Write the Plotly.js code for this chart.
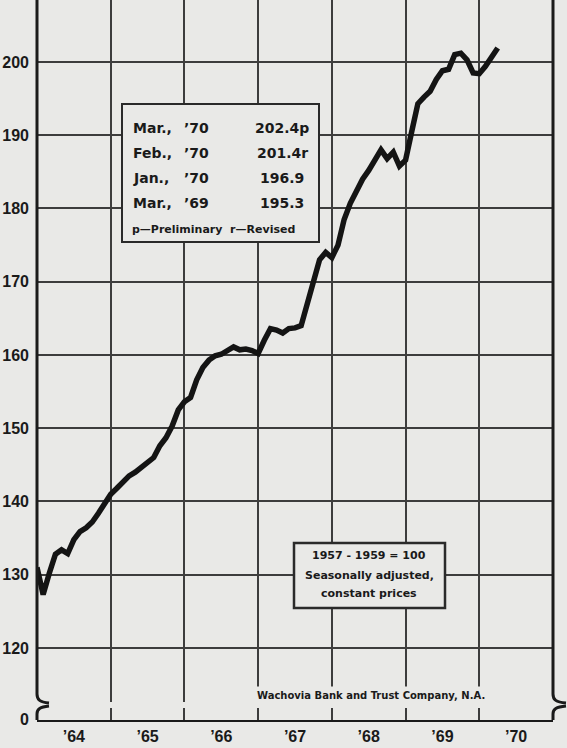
<!DOCTYPE html>
<html><head><meta charset="utf-8">
<script src="https://cdn.plot.ly/plotly-3.0.1.min.js"></script>
<style>html,body{margin:0;padding:0;background:#e9e9e7;} #chart{width:567px;height:748px;}</style>
</head><body><div id="chart"></div>
<script>
// ---- data (index, 1957-59 = 100, monthly, plotted at month end) ----
const v1963 = [131.0];                     // Dec
const v1964 = [127.3,130.2,132.8,133.4,132.9,134.8,135.9,136.4,137.2,138.4,139.8,141.0];
const v1965 = [141.8,142.6,143.5,144.0,144.6,145.4,146.0,147.6,148.7,150.3,152.5,153.6];
const v1966 = [154.2,156.6,158.3,159.3,159.9,160.1,160.5,161.1,160.7,160.8,160.6,160.2];
const v1967 = [162.0,163.6,163.4,163.0,163.6,163.7,164.0,167.0,170.0,173.0,174.0,173.3];
const v1968 = [175.0,178.5,180.7,182.5,184.0,185.2,186.7,188.0,186.8,187.7,185.8,186.6];
const v1969 = [190.5,194.3,195.2,196.0,197.6,198.8,199.0,201.0,201.2,200.3,198.5,198.4];
const v1970 = [199.4,200.8,201.9];         // Jan-Mar
const yearBlocks = [[1963,11,v1963],[1964,0,v1964],[1965,0,v1965],[1966,0,v1966],
                    [1967,0,v1967],[1968,0,v1968],[1969,0,v1969],[1970,0,v1970]];

const xTickYears = [1964,1965,1966,1967,1968,1969,1970];
const xTickText  = ['’64','’65','’66','’67','’68','’69','’70'];
const yTickVals  = [120,130,140,150,160,170,180,190,200];
const yZeroLabel = '0';

const tableMonths = ['Mar.,','Feb.,','Jan.,','Mar.,'];
const tableYears  = ['’70','’70','’70','’69'];
const tableValues = ['202.4p','201.4r','196.9','195.3'];
const tableNote   = 'p—Preliminary&nbsp;&nbsp;r—Revised';
const baseLines   = ['1957 - 1959 = 100','Seasonally adjusted,','constant prices'];
const credit      = 'Wachovia Bank and Trust Company, N.A.';

// ---- build series ----
const xs = [], ys = [];
yearBlocks.forEach(([yr, m0, vals]) => {
  vals.forEach((v, i) => { xs.push(yr + (m0 + i + 1) / 12); ys.push(v); });
});

// ---- layout helpers (pixel -> paper) ----
const L = 37, R = 553, T = 0, B = 720;
const px = x => (x - L) / (R - L);
const py = y => (B - y) / (B - T);
const path = segs => segs.map(s => s[0] + ' ' + s.slice(1).reduce((a,c,i)=>{
  if (i % 2 === 0) a.push(px(c).toFixed(5)); else a.push(py(c).toFixed(5)); return a;},[]).join(' ')).join(' ');

const BG = '#e9e9e7', INK = '#1a1a1a', GRID = '#3d3d3d';
const tickFont = {family:'Liberation Sans, Arial, sans-serif', size:16, color:INK, weight:'bold'};
const boxFont  = {family:'DejaVu Sans, sans-serif', size:14, color:INK, weight:'bold'};

const yBottom = 110.17, yTop = 208.46;

const shapes = [
  {type:'rect', xref:'paper', yref:'paper', x0:px(38), x1:px(552), y0:py(708), y1:py(702),
   fillcolor:BG, line:{width:0}, layer:'above'},
  {type:'path', xref:'paper', yref:'paper', layer:'above', line:{color:INK, width:3},
   path: path([['M',37,0],['L',37,694],['C',37,700,40,702,49,703]])},
  {type:'path', xref:'paper', yref:'paper', layer:'above', line:{color:INK, width:3},
   path: path([['M',49,706],['C',40,707,37,709,37,714],['L',37,720]])},
  {type:'path', xref:'paper', yref:'paper', layer:'above', line:{color:INK, width:3},
   path: path([['M',553,0],['L',553,694],['C',553,700,556,702,566,703]])},
  {type:'path', xref:'paper', yref:'paper', layer:'above', line:{color:INK, width:3},
   path: path([['M',566,706],['C',556,707,553,709,553,714],['L',553,720]])},
  {type:'rect', xref:'paper', yref:'paper', x0:px(122), x1:px(319), y0:py(242), y1:py(104),
   fillcolor:BG, line:{color:'#2a2a2a', width:2}, layer:'above'},
  {type:'rect', xref:'paper', yref:'paper', x0:px(294), x1:px(445), y0:py(608), y1:py(543),
   fillcolor:BG, line:{color:'#2a2a2a', width:2.5}, layer:'above'}
];

const ann = [];
const rowY = [128,153,178,203];
tableMonths.forEach((m,i) => {
  ann.push({xref:'paper', yref:'paper', x:px(131), y:py(rowY[i]), xanchor:'left', yanchor:'middle',
            text:m, showarrow:false, font:boxFont});
  ann.push({xref:'paper', yref:'paper', x:px(182), y:py(rowY[i]), xanchor:'left', yanchor:'middle',
            text:tableYears[i], showarrow:false, font:boxFont});
  ann.push({xref:'paper', yref:'paper', x:px(282), y:py(rowY[i]), xanchor:'center', yanchor:'middle',
            text:tableValues[i], showarrow:false, font:boxFont});
});
ann.push({xref:'paper', yref:'paper', x:px(130), y:py(229), xanchor:'left', yanchor:'middle',
          text:tableNote, showarrow:false, font:{...boxFont, size:11}});
const baseY = [555,575,593];
baseLines.forEach((t,i) => ann.push({xref:'paper', yref:'paper', x:px(369), y:py(baseY[i]),
  xanchor:'center', yanchor:'middle', text:t, showarrow:false, font:{...boxFont, size:11}}));
ann.push({xref:'paper', yref:'paper', x:px(371), y:py(695), xanchor:'center', yanchor:'middle',
          text:credit, showarrow:false, bgcolor:BG, borderpad:3, font:{...boxFont, size:10}});

const traces = [
  {x:xs, y:ys, type:'scatter', mode:'lines', line:{color:'#141414', width:5.5}, hoverinfo:'skip'},
  {x:[], y:[], xaxis:'x2', type:'scatter', mode:'lines', hoverinfo:'skip', showlegend:false}
];

const layout = {
  width:567, height:748, margin:{l:L, r:567-R, t:T, b:748-B},
  paper_bgcolor:BG, plot_bgcolor:BG, showlegend:false,
  xaxis:{range:[1964,1971], tickvals:xTickYears.slice(1), showticklabels:false, ticks:'',
         showgrid:true, gridcolor:GRID, gridwidth:2, zeroline:false,
         showline:true, linecolor:INK, linewidth:2, fixedrange:true},
  xaxis2:{overlaying:'x', anchor:'y', side:'bottom', range:[1964,1971],
          tickvals:xTickYears.map(y=>y+0.5), ticktext:xTickText, ticks:'', showgrid:false,
          zeroline:false, showline:false, tickfont:tickFont, ticklabelstandoff:5, fixedrange:true},
  yaxis:{range:[yBottom, yTop], tickvals:[yBottom+0.02, ...yTickVals],
         ticktext:[yZeroLabel, ...yTickVals.map(String)], ticks:'', ticklabelstandoff:7,
         showgrid:true, gridcolor:GRID, gridwidth:2, zeroline:false, showline:false,
         tickfont:tickFont, fixedrange:true},
  shapes:shapes, annotations:ann
};
Plotly.newPlot('chart', traces, layout, {displayModeBar:false, staticPlot:true});
</script></body></html>
